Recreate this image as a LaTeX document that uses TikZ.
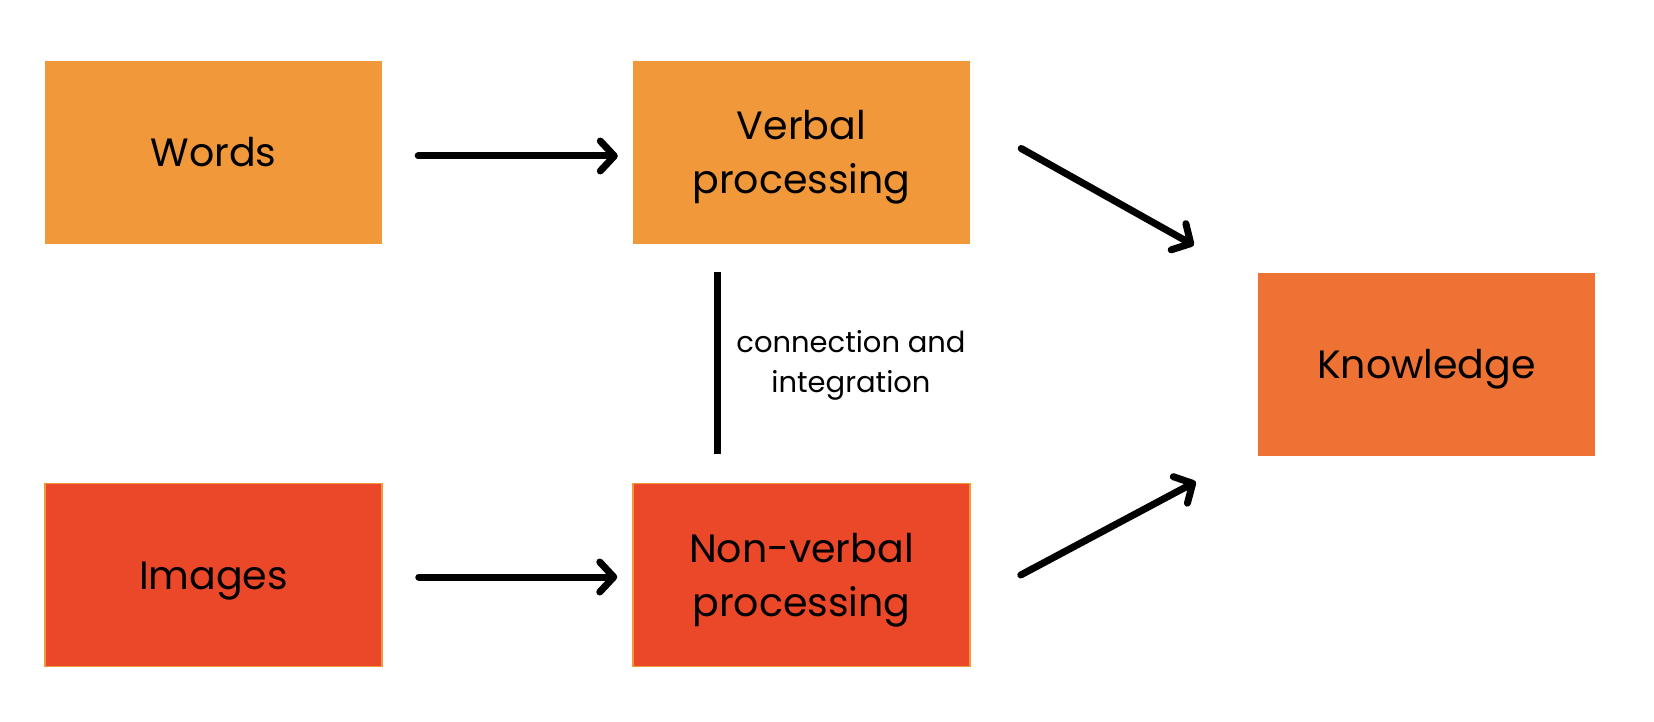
\documentclass[tikz,border=0pt]{standalone}
\usepackage{fontspec}
\setmainfont{Poppins}
\usetikzlibrary{arrows.meta,calc}
\definecolor{lightor}{HTML}{F1983A}
\definecolor{knowor}{HTML}{ED7233}
\definecolor{redor}{HTML}{EB4729}
\tikzset{
  box/.style={rectangle, inner sep=0pt, minimum width=337pt, minimum height=183pt,
    font=\fontsize{39.5pt}{54pt}\selectfont, align=center},
  onel/.style={text height=28pt, text depth=0pt},
  twol/.style={text height=82pt, text depth=0pt},
  obox/.style={box, fill=lightor},
  kbox/.style={box, fill=knowor},
  rbox/.style={box, fill=redor, draw=lightor, line width=1.5pt},
  conn/.style={line width=7pt, line cap=round, line join=round,
    -{Straight Barb[length=14pt, width=30pt, line cap=round, line join=round]}},
  link/.style={line width=7pt},
  note/.style={font=\fontsize{29pt}{40pt}\selectfont, align=center, text height=58pt, text depth=0pt, inner sep=0pt}
}
\begin{document}
\begin{tikzpicture}[x=1pt,y=-1pt]
\useasboundingbox[fill=white] (0,0) rectangle (1654,722);
\node[obox,onel] (words) at (213.5,152.5) {Words};
\node[obox,twol] (verbal) at (801.5,152.5) {Verbal\\processing};
\node[rbox,onel] (images) at (213.5,575) {Images};
\node[rbox,twol] (nonverbal) at (801.5,575) {Non-verbal\\processing};
\node[kbox,onel] (know) at (1426.5,364) {Knowledge};
\coordinate (ws) at ($(words.east)+(36,3.5)$);
\coordinate (we) at ($(verbal.west)+(-15,3.5)$);
\coordinate (is) at ($(images.east)+(36,2)$);
\coordinate (ie) at ($(nonverbal.west)+(-15,2)$);
\coordinate (vs) at ($(verbal.east)+(51,-4)$);
\coordinate (ve) at ($(know.north west)+(-64,-27)$);
\coordinate (ns) at ($(nonverbal.east)+(50,0)$);
\coordinate (ne) at ($(know.south west)+(-62,26)$);
\coordinate (ls) at ($(verbal.south)+(-84.5,28)$);
\coordinate (le) at ($(nonverbal.north)+(-84.5,-29)$);
\draw[conn] (ws) -- (we);
\draw[conn] (is) -- (ie);
\draw[conn] (vs) -- (ve);
\draw[conn] (ns) -- (ne);
\draw[link] (ls) -- (le);
\node[note] (label) at (851,363) {connection and\\integration};
\end{tikzpicture}
\end{document}
